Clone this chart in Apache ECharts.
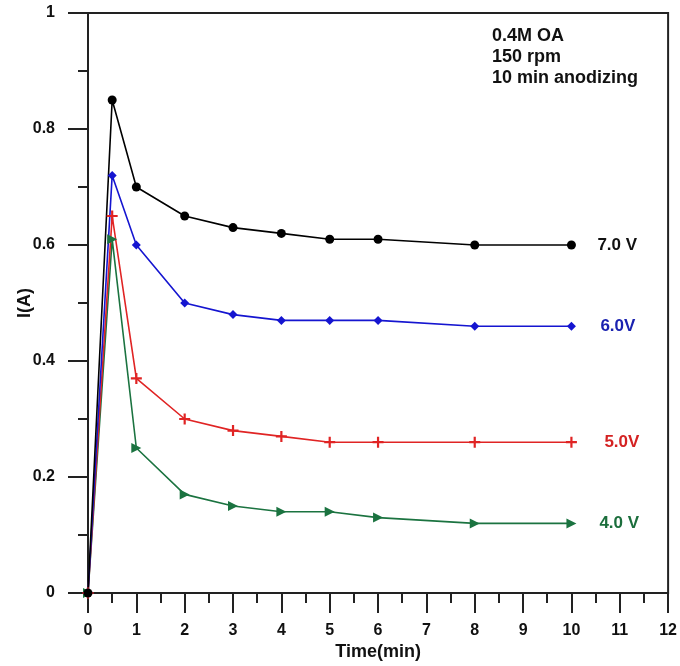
<!DOCTYPE html>
<html>
<head>
<meta charset="utf-8">
<script src="https://cdn.jsdelivr.net/npm/echarts@6/dist/echarts.min.js"></script>
<style>html,body{margin:0;padding:0;background:#fff;overflow:hidden;}#c{width:680px;height:666px;}</style>
</head>
<body>
<div id="c"></div>
<script>
const time = [0, 0.5, 1, 2, 3, 4, 5, 6, 8, 10];
const v70 = [0, 0.85, 0.70, 0.65, 0.63, 0.62, 0.61, 0.61, 0.60, 0.60];
const v60 = [0, 0.72, 0.60, 0.50, 0.48, 0.47, 0.47, 0.47, 0.46, 0.46];
const v50 = [0, 0.65, 0.37, 0.30, 0.28, 0.27, 0.26, 0.26, 0.26, 0.26];
const v40 = [0, 0.61, 0.25, 0.17, 0.15, 0.14, 0.14, 0.13, 0.12, 0.12];
const seriesNames = ['4.0 V', '5.0V', '6.0V', '7.0 V'];
const annotation = ['0.4M OA', '150 rpm', '10 min anodizing'];

const FONT = '"Liberation Sans", Arial, sans-serif';
const pairs = arr => time.map((t, i) => [t, arr[i]]);

function mkSeries(name, data, color, labelColor, symbol, size, dist) {
  return {
    type: 'line', name: name, data: pairs(data),
    symbol: symbol, symbolSize: size,
    lineStyle: { color: color, width: 1.6 },
    itemStyle: { color: color },
    z: 3,
    endLabel: {
      show: true, formatter: name, distance: dist,
      color: labelColor, fontWeight: 'bold', fontSize: 17, fontFamily: FONT
    },
    animation: false
  };
}

const el = document.getElementById('c');
const chart = echarts.init(el, null, { renderer: 'canvas', width: 680, height: 666 });
chart.setOption({
  backgroundColor: '#fff',
  animation: false,
  grid: { left: 88, right: 11, top: 13, bottom: 71, show: true, borderColor: '#222', borderWidth: 2 },
  xAxis: {
    type: 'value', min: 0, max: 12, interval: 1,
    name: 'Time(min)', nameLocation: 'middle', nameGap: 50, nameMoveOverlap: false,
    nameTextStyle: { fontSize: 18, fontWeight: 'bold', color: '#111', fontFamily: FONT },
    axisLine: { lineStyle: { color: '#222', width: 2 } },
    axisTick: { length: 20, lineStyle: { color: '#222', width: 2 } },
    minorTick: { show: true, splitNumber: 2, length: 10, lineStyle: { color: '#222', width: 2 } },
    splitLine: { show: false },
    axisLabel: { margin: 30, fontSize: 16, fontWeight: 'bold', color: '#111', fontFamily: FONT }
  },
  yAxis: {
    type: 'value', min: 0, max: 1, interval: 0.2,
    name: 'I(A)', nameLocation: 'middle', nameGap: 54, nameMoveOverlap: false,
    nameTextStyle: { fontSize: 18, fontWeight: 'bold', color: '#111', fontFamily: FONT },
    axisLine: { lineStyle: { color: '#222', width: 2 } },
    axisTick: { length: 20, lineStyle: { color: '#222', width: 2 } },
    minorTick: { show: true, splitNumber: 2, length: 10, lineStyle: { color: '#222', width: 2 } },
    splitLine: { show: false },
    axisLabel: { margin: 33, fontSize: 16, fontWeight: 'bold', color: '#111', fontFamily: FONT }
  },
  graphic: [{
    type: 'text', left: 492, top: 26,
    style: {
      text: annotation.join('\n'), font: 'bold 18px ' + FONT, fill: '#111', lineHeight: 21
    }
  }],
  series: [
    mkSeries(seriesNames[0], v40, '#1b7340', '#1b6e3c', 'path://M0,0L10,5L0,10Z', 10, 28),
    mkSeries(seriesNames[1], v50, '#e02424', '#d42222', 'path://M4,0H6V4H10V6H6V10H4V6H0V4H4Z', 11, 33),
    mkSeries(seriesNames[2], v60, '#1515d0', '#1a22b0', 'diamond', 9, 29),
    mkSeries(seriesNames[3], v70, '#000000', '#111111', 'circle', 9, 26)
  ]
});
</script>
</body>
</html>
